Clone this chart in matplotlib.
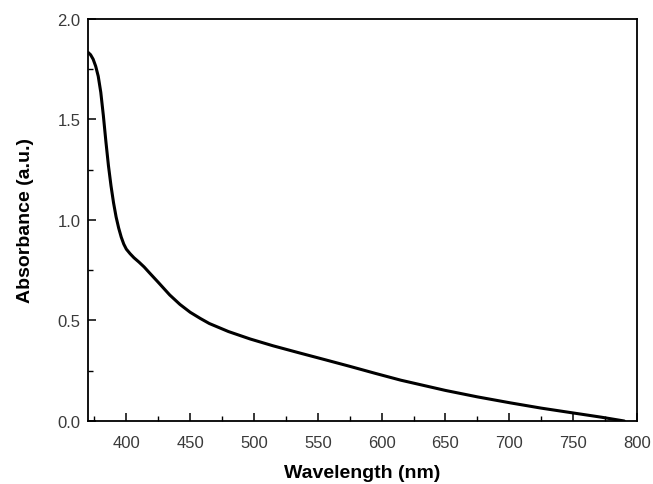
import numpy as np
import matplotlib.pyplot as plt
from matplotlib.ticker import MultipleLocator

plt.rcParams['font.family'] = ['Liberation Sans', 'DejaVu Sans']

# values
wavelength = [370, 372, 374, 376, 378, 380, 382, 384, 386, 388, 390, 392, 394,
              396, 398, 400, 403, 406, 410, 414, 418, 425, 434, 442, 450, 458,
              465, 480, 497, 515, 536, 555, 575, 595, 615, 650, 675, 701, 725,
              750, 772, 790]
absorbance = [1.834, 1.822, 1.80, 1.765, 1.715, 1.635, 1.52, 1.39, 1.27, 1.17,
              1.085, 1.015, 0.96, 0.915, 0.88, 0.855, 0.832, 0.812, 0.79, 0.766,
              0.738, 0.69, 0.627, 0.58, 0.541, 0.51, 0.485, 0.445, 0.408,
              0.374, 0.338, 0.306, 0.272, 0.237, 0.203, 0.152, 0.12, 0.09,
              0.064, 0.04, 0.019, 0.0]

fig = plt.figure(figsize=(6.53, 4.85), dpi=100)
ax = fig.add_axes([0.1348, 0.1299, 0.8407, 0.8289])

ax.plot(wavelength, absorbance, color='black', lw=2.2, solid_capstyle='round')

ax.set_xlim(370, 800)
ax.set_ylim(0, 2.0)
ax.xaxis.set_minor_locator(MultipleLocator(25))
ax.yaxis.set_major_locator(MultipleLocator(0.5))
ax.yaxis.set_minor_locator(MultipleLocator(0.25))
ax.set_xticks(np.arange(400, 801, 50))
ax.yaxis.set_major_formatter(plt.FormatStrFormatter('%.1f'))

ax.tick_params(which='both', direction='in', labelsize=12, labelcolor='#3a3a3a',
               top=False, right=False)
ax.tick_params(axis='x', which='major', pad=10)
ax.tick_params(axis='y', which='major', pad=5.5)
ax.tick_params(which='major', length=6, width=1.1)
ax.tick_params(which='minor', length=3.5, width=1.0)
for sp in ax.spines.values():
    sp.set_linewidth(1.3)

ax.set_xlabel('Wavelength (nm)', fontsize=14, fontweight='bold', labelpad=10)
ax.set_ylabel('Absorbance (a.u.)', fontsize=14, fontweight='bold', labelpad=17)

fig.savefig('out.png', dpi=100)
